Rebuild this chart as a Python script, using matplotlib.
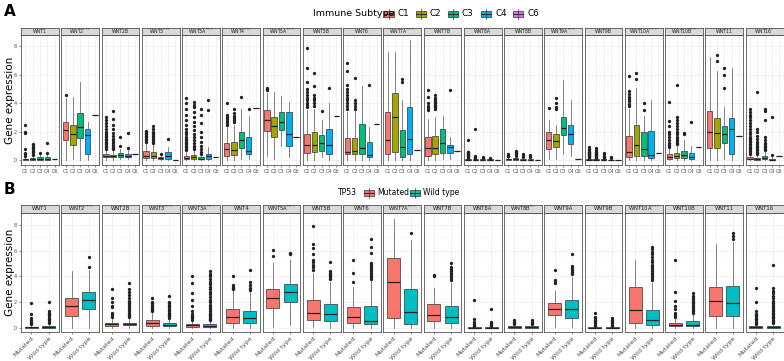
import matplotlib
matplotlib.use("Agg")
import matplotlib.pyplot as plt
from matplotlib.patches import Rectangle
from matplotlib.lines import Line2D

W, H = 784, 361

# ---------------- Panel A data (Immune subtype) ----------------
A_GENES = ["WNT1", "WNT2$^{***}$", "WNT2B", "WNT3$^{***}$", "WNT3A$^{***}$", "WNT4$^{***}$",
           "WNT5A$^{***}$", "WNT5B", "WNT6", "WNT7A$^{***}$", "WNT7B", "WNT8A", "WNT8B",
           "WNT9A$^{***}$", "WNT9B", "WNT10A$^{***}$", "WNT10B$^{**}$", "WNT11", "WNT16$^{*}$"]
A_GROUPS = ["C1", "C2", "C3", "C4", "C6"]
A_COLORS = ["#F8766D", "#A3A500", "#00BF7D", "#00B0F6", "#E76BF3"]

A_Q1 = [[0.0, 0.02, 0.0, 0.0, 0.05], [1.4, 1.05, 1.55, 0.4, 3.15], [0.18, 0.18, 0.2, 0.18, 0.43],
        [0.14, 0.14, 0.07, 0.07, 0.02], [0.05, 0.1, 0.04, 0.1, 0.2], [0.3, 0.35, 0.85, 0.4, 3.67],
        [2.05, 1.65, 2.1, 1.0, 1.65], [0.5, 0.55, 0.62, 0.42, 3.1], [0.4, 0.45, 0.4, 0.22, 2.55],
        [0.4, 0.55, 0.2, 0.45, 0.7], [0.3, 0.42, 0.5, 0.47, 0.65], [0, 0, 0, 0, 0],
        [0.02, 0.02, 0, 0, 0], [0.75, 0.9, 1.75, 1.15, 0.05], [0, 0, 0, 0, 0],
        [0.23, 0.28, 0.28, 0.12, 0.47], [0.1, 0.12, 0.16, 0.05, 0.95], [0.82, 0.87, 1.22, 0.42, 1.7],
        [0.05, 0.02, 0.05, 0.0, 0.25]]
A_MED = [[0.04, 0.07, 0.08, 0.06, 0.05], [2.08, 1.8, 2.3, 1.75, 3.15], [0.3, 0.28, 0.35, 0.3, 0.43],
         [0.3, 0.28, 0.13, 0.25, 0.02], [0.13, 0.2, 0.1, 0.25, 0.2], [0.8, 0.7, 1.4, 0.65, 3.67],
         [2.85, 2.4, 2.65, 1.8, 1.65], [1.08, 1.05, 1.18, 1.08, 3.1], [0.55, 0.63, 0.85, 0.38, 2.55],
         [1.4, 3.0, 0.95, 1.48, 0.7], [0.82, 0.87, 1.17, 0.94, 0.65], [0.02, 0.02, 0.02, 0.01, 0],
         [0.05, 0.06, 0.02, 0.02, 0], [1.4, 1.35, 2.25, 1.8, 0.05], [0.02, 0.02, 0.02, 0.01, 0],
         [0.6, 1.06, 0.75, 0.35, 0.47], [0.23, 0.28, 0.35, 0.19, 0.95], [1.95, 1.92, 1.8, 2.16, 1.7],
         [0.1, 0.06, 0.12, 0.03, 0.25]]
A_Q3 = [[0.1, 0.15, 0.2, 0.18, 0.05], [2.7, 2.5, 3.3, 2.15, 3.15], [0.4, 0.38, 0.5, 0.42, 0.43],
        [0.62, 0.57, 0.2, 0.55, 0.02], [0.3, 0.35, 0.18, 0.45, 0.2], [1.2, 1.3, 2.0, 1.6, 3.67],
        [3.55, 3.0, 3.35, 3.35, 1.65], [1.85, 2.0, 1.75, 2.2, 3.1], [1.55, 1.55, 2.55, 1.25, 2.55],
        [3.4, 4.75, 2.1, 3.7, 0.7], [1.6, 1.7, 2.18, 1.05, 0.65], [0.05, 0.05, 0.05, 0.04, 0],
        [0.1, 0.12, 0.05, 0.05, 0], [1.95, 1.85, 3.05, 2.45, 0.05], [0.05, 0.05, 0.05, 0.03, 0],
        [1.7, 2.5, 2.0, 2.05, 0.47], [0.4, 0.47, 0.66, 0.5, 0.95], [3.47, 2.98, 2.4, 2.98, 1.7],
        [0.2, 0.15, 0.3, 0.1, 0.25]]
A_LO = [[0, 0, 0, 0, 0.05], [0.0, 0.05, 0.0, 0.0, 3.15], [0, 0, 0.05, 0.05, 0.43],
        [0, 0, 0, 0, 0.02], [0, 0, 0, 0, 0.2], [0, 0, 0.1, 0.05, 3.67],
        [0.3, 0.1, 1.0, 0.2, 1.65], [0, 0, 0.2, 0, 3.1], [0, 0, 0, 0, 2.55],
        [0, 0, 0, 0, 0.7], [0, 0, 0.1, 0.05, 0.65], [0, 0, 0, 0, 0],
        [0, 0, 0, 0, 0], [0.1, 0.1, 0.4, 0.3, 0.05], [0, 0, 0, 0, 0],
        [0, 0, 0, 0, 0.47], [0, 0, 0, 0, 0.95], [0, 0, 0.05, 0, 1.7],
        [0, 0, 0, 0, 0.25]]
A_HI = [[0.25, 0.3, 0.45, 0.4, 0.05], [4.4, 4.45, 5.5, 2.7, 3.15], [0.7, 0.65, 0.8, 0.7, 0.43],
        [1.2, 1.1, 0.35, 0.9, 0.02], [0.6, 0.7, 0.38, 0.9, 0.2], [2.3, 2.5, 3.6, 3.1, 3.67],
        [4.7, 4.8, 4.5, 4.05, 1.65], [3.5, 3.6, 2.8, 4.0, 3.1], [3.4, 3.5, 5.2, 2.35, 2.55],
        [7.6, 7.6, 4.2, 8.45, 0.7], [2.9, 3.0, 3.1, 1.65, 0.65], [0.1, 0.1, 0.1, 0.08, 0],
        [0.2, 0.25, 0.1, 0.1, 0], [2.8, 2.5, 5.6, 4.2, 0.05], [0.1, 0.1, 0.1, 0.06, 0],
        [3.6, 5.05, 3.1, 4.25, 0.47], [0.85, 1.0, 1.4, 1.0, 0.95], [7.27, 6.3, 3.75, 6.45, 1.7],
        [0.4, 0.3, 0.6, 0.25, 0.25]]
A_OUT = [
    [[0.3, 0.4, 0.5, 0.8, 1.9, 2.0, 2.45], [0.35, 0.45, 0.55, 0.65, 0.75, 0.85, 0.95, 1.05, 1.1], [0.5], [0.5, 1.2], []],
    [[4.6], [], [], [], []],
    [[0.8, 0.9, 1.0, 1.1, 1.2, 1.3, 1.4, 1.5, 1.6, 1.7, 1.8, 2.0, 2.2, 2.4, 2.6, 2.8, 3.0],
     [0.75, 0.85, 0.95, 1.05, 1.2, 1.35, 1.5, 1.7, 1.9, 2.2, 2.5, 2.9, 3.45], [1.0, 1.65], [0.85, 1.9], []],
    [[1.3, 1.4, 1.5, 1.6, 1.7, 1.8, 1.9, 2.0, 2.05], [1.2, 1.3, 1.4, 1.5, 1.6, 1.7, 1.8, 1.9, 2.0, 2.2, 2.4],
     [0.45], [1.45], []],
    [[0.7, 0.8, 0.9, 1.0, 1.1, 1.2, 1.3, 1.4, 1.5, 1.6, 1.8, 2.0, 2.2, 2.5, 2.8, 3.2, 3.6, 4.0, 4.4],
     [0.8, 0.9, 1.0, 1.2, 1.4, 1.6, 1.8, 2.1, 2.4, 2.7, 3.0, 3.4, 3.7, 3.9, 4.1],
     [0.45, 0.6, 0.8, 1.0, 1.3, 1.6, 2.0, 2.6, 3.2, 3.6], [3.55, 4.2], []],
    [[2.45, 2.6, 2.75, 2.9, 3.05, 3.2, 4.0], [2.65, 2.8, 2.95, 3.1, 3.3, 3.6], [4.45], [3.6], []],
    [[4.9, 5.0, 5.1], [], [], [], []],
    [[3.7, 3.85, 4.0, 4.2, 4.4, 4.6, 4.8, 5.0, 5.5, 6.5, 7.9], [3.8, 4.0, 4.2, 4.4, 4.6, 5.2, 6.1], [3.45], [5.1], []],
    [[3.6, 3.8, 4.0, 4.2, 4.4, 4.6, 4.8, 5.0, 5.3, 6.3, 6.8], [3.6, 3.8, 4.0, 4.2, 5.75], [], [5.3], []],
    [[], [], [5.5, 5.7], [], []],
    [[3.5, 3.65, 3.8, 4.0, 4.45, 4.9], [3.6, 3.7, 3.8, 3.9, 4.0, 4.1, 4.2, 4.4, 4.6], [], [4.9], []],
    [[0.15, 0.2, 0.25, 0.3, 0.35, 0.4, 0.45, 0.5, 0.55, 0.6, 1.4], [0.15, 0.2, 0.3, 2.2], [0.15, 0.2], [0.12], []],
    [[0.25, 0.3, 0.4], [0.3, 0.4, 0.5, 0.6, 0.65], [0.2, 0.3, 0.45], [0.2, 0.35], []],
    [[3.65], [3.6, 3.7, 4.0, 4.4], [], [], []],
    [[0.15, 0.2, 0.25, 0.3, 0.35, 0.4, 0.45, 0.5, 0.55, 0.6, 0.7, 0.8, 0.95],
     [0.15, 0.2, 0.25, 0.3, 0.35, 0.4, 0.45, 0.5, 0.55, 0.6, 0.7, 0.85], [0.15, 0.2, 0.3, 0.4, 0.5], [0.15, 0.2], []],
    [[3.8, 3.95, 4.15, 4.3, 4.45, 4.65, 4.85, 5.9], [5.7, 6.15], [3.55, 4.0], [], []],
    [[0.95, 1.05, 1.2, 1.4, 1.6, 1.8, 2.0, 2.4, 2.75, 4.1],
     [1.1, 1.2, 1.35, 1.5, 1.65, 1.8, 2.0, 2.2, 2.4, 2.6, 2.8, 3.05, 5.3], [1.8, 1.9], [2.65], []],
    [[], [7.0, 7.4], [5.05, 6.0, 6.45], [], []],
    [[0.45, 0.55, 0.65, 0.75, 0.85, 0.95, 1.05, 1.15, 1.25, 1.35, 1.45, 1.55, 1.65, 1.8, 2.0, 2.2, 2.4, 2.6,
      2.8, 3.0, 3.2, 3.4, 3.6],
     [0.4, 0.5, 0.6, 0.7, 0.8, 0.9, 1.0, 1.1, 1.3, 1.5, 1.7, 2.0, 2.2, 4.8],
     [0.7, 0.8, 0.9, 1.0, 1.1, 1.2, 1.4, 1.6, 2.8, 3.45, 3.6], [0.35, 3.05], []],
]

# ---------------- Panel B data (TP53) ----------------
B_GENES = ["WNT1", "WNT2$^{***}$", "WNT2B", "WNT3$^{***}$", "WNT3A$^{***}$", "WNT4",
           "WNT5A$^{***}$", "WNT5B", "WNT6", "WNT7A$^{***}$", "WNT7B", "WNT8A", "WNT8B$^{**}$",
           "WNT9A", "WNT9B", "WNT10A$^{***}$", "WNT10B", "WNT11", "WNT16"]
B_GROUPS = ["Mutated", "Wild type"]
B_COLORS = ["#F8766D", "#00BFC4"]

B_Q1 = [[0.0, 0.0], [0.9, 1.47], [0.18, 0.2], [0.15, 0.15], [0.1, 0.08], [0.4, 0.4], [1.55, 2.0],
        [0.6, 0.52], [0.35, 0.28], [0.78, 0.28], [0.52, 0.39], [0, 0], [0.02, 0.02], [0.98, 0.8],
        [0, 0], [0.39, 0.26], [0.13, 0.13], [0.9, 0.9], [0.02, 0.02]]
B_MED = [[0.05, 0.07], [1.73, 2.14], [0.3, 0.3], [0.38, 0.23], [0.2, 0.16], [0.88, 0.78], [2.3, 2.8],
         [1.2, 1.05], [0.88, 0.53], [3.6, 1.24], [0.98, 0.85], [0.02, 0.02], [0.06, 0.06], [1.5, 1.45],
         [0.02, 0.02], [1.42, 0.65], [0.25, 0.25], [2.1, 1.9], [0.06, 0.08]]
B_Q3 = [[0.1, 0.15], [2.35, 2.76], [0.42, 0.42], [0.6, 0.38], [0.33, 0.28], [1.45, 1.35], [3.05, 3.44],
        [2.15, 1.85], [1.63, 1.72], [5.43, 3.0], [1.89, 1.7], [0.05, 0.05], [0.12, 0.12], [1.94, 2.15],
        [0.05, 0.05], [3.18, 1.42], [0.41, 0.52], [3.18, 3.28], [0.12, 0.15]]
B_LO = [[0, 0], [0, 0], [0, 0], [0, 0], [0, 0], [0, 0], [0.1, 0.25],
        [0.1, 0.0], [0, 0], [0, 0], [0, 0], [0, 0], [0, 0], [0.1, 0.05],
        [0, 0], [0, 0], [0, 0], [0, 0], [0, 0]]
B_HI = [[0.25, 0.35], [4.4, 4.5], [0.75, 0.75], [1.2, 0.75], [0.6, 0.55], [2.9, 2.8], [5.0, 5.3],
        [4.3, 3.6], [3.2, 3.7], [8.47, 6.8], [3.1, 3.5], [0.1, 0.1], [0.25, 0.25], [2.9, 3.95],
        [0.1, 0.1], [5.25, 3.5], [0.75, 1.05], [6.5, 6.7], [0.25, 0.3]]
B_OUT = [
    [[0.3, 0.4, 0.5, 0.6, 0.8, 1.1, 1.9], [0.4, 0.5, 0.6, 0.7, 0.8, 0.9, 1.0, 1.1, 1.2, 1.3, 2.05]],
    [[], [4.7, 5.5]],
    [[0.85, 1.0, 1.2, 1.6, 1.7, 2.0, 2.35, 3.0],
     [0.85, 0.95, 1.05, 1.15, 1.3, 1.45, 1.6, 1.75, 1.9, 2.1, 2.3, 2.55, 2.8, 3.0, 3.45]],
    [[1.3, 1.4, 1.5, 1.6, 1.7, 1.8, 1.9, 2.0, 2.3],
     [0.8, 0.9, 1.0, 1.1, 1.2, 1.3, 1.4, 1.5, 1.6, 1.7, 1.8, 1.9, 2.0, 2.45]],
    [[0.65, 0.75, 0.85, 0.95, 1.1, 1.3, 1.7, 2.2, 2.7, 3.5, 4.0],
     [0.6, 0.7, 0.8, 0.9, 1.0, 1.1, 1.2, 1.35, 1.5, 1.65, 1.8, 2.0, 2.2, 2.4, 2.6, 2.8, 3.0, 3.2, 3.4, 3.6,
      3.8, 4.0, 4.2, 4.4]],
    [[3.0, 3.1, 3.2, 3.3, 4.05], [2.95, 3.1, 3.3, 3.6, 4.5]],
    [[5.6, 6.05], [5.75, 5.85]],
    [[4.5, 4.7, 4.9, 5.1, 5.3, 5.7, 6.2, 6.5, 7.9], [3.8, 3.9, 4.0, 4.1, 4.2, 4.3, 4.4, 5.1]],
    [[3.6, 4.3, 5.3], [3.8, 3.95, 4.1, 4.25, 4.4, 4.55, 4.7, 4.85, 5.0, 5.8, 6.3, 6.9]],
    [[], [7.4]],
    [[4.0, 4.1], [3.7, 3.85, 4.0, 4.15, 4.3, 4.45, 4.6, 4.75, 5.0]],
    [[0.15, 0.2, 0.3, 0.5, 0.7, 2.2], [0.15, 0.2, 0.3, 0.4, 0.5, 1.45]],
    [[0.3, 0.4, 0.5, 0.6], [0.3, 0.4, 0.5, 0.6]],
    [[3.5, 3.6, 3.75, 4.5], [4.2, 4.35, 4.5, 4.65, 4.8, 5.7]],
    [[0.15, 0.25, 0.35, 0.45, 0.55, 0.65, 0.75, 0.85, 1.15], [0.15, 0.25, 0.35, 0.45, 0.55, 0.65, 0.8]],
    [[], [3.7, 3.85, 4.0, 4.15, 4.3, 4.45, 4.6, 4.75, 4.9, 5.1, 5.3, 5.5, 5.7, 5.9, 6.1, 6.3]],
    [[0.85, 1.0, 1.2, 1.5, 1.7, 2.1, 2.8, 5.3],
     [1.15, 1.3, 1.45, 1.6, 1.75, 1.9, 2.05, 2.2, 2.35, 2.5, 2.7]],
    [[], [6.9, 7.1, 7.4]],
    [[0.3, 0.4, 0.5, 0.6, 0.7, 0.8, 0.9, 1.0, 1.1, 1.3, 2.0, 3.1],
     [0.35, 0.45, 0.55, 0.65, 0.75, 0.85, 0.95, 1.05, 1.2, 1.35, 1.5, 1.65, 1.8, 1.95, 2.1, 2.3, 2.5, 2.7,
      2.9, 3.1, 4.9]],
]
Y_TICKS = [0, 2, 4, 6, 8]

# ---------------- drawing ----------------
fig = plt.figure(figsize=(W / 100, H / 100), dpi=100)
fig.patch.set_facecolor("white")


def px_axes(x0, y0, x1, y1, **kw):
    return fig.add_axes([x0 / W, 1 - y1 / H, (x1 - x0) / W, (y1 - y0) / H], **kw)


EDGE = "#333333"


def draw_panel(genes, groups, colors, q1, med, q3, lo, hi, out, top, bottom, strip_h,
               ylim, strip_fs, xtick_fs, xrot):
    n = len(genes)
    left, right = 21.0, 783.5
    gap = 2.3
    w = (right - left - gap * (n - 1)) / n
    k = len(groups)
    for i in range(n):
        x0 = left + i * (w + gap)
        ax = px_axes(x0, top, x0 + w, bottom)
        stats = []
        for j in range(k):
            stats.append(dict(med=med[i][j], q1=q1[i][j], q3=q3[i][j],
                              whislo=lo[i][j], whishi=hi[i][j], fliers=out[i][j]))
        res = ax.bxp(stats, positions=list(range(1, k + 1)), widths=0.75, patch_artist=True,
                     showcaps=False,
                     boxprops=dict(linewidth=0.5, edgecolor=EDGE),
                     whiskerprops=dict(linewidth=0.5, color="#555555"),
                     medianprops=dict(linewidth=0.9, color="#222222"),
                     flierprops=dict(marker="o", markersize=2.4, markerfacecolor="#222222",
                                     markeredgewidth=0, linestyle="none"))
        for patch, c in zip(res["boxes"], colors):
            patch.set_facecolor(c)
        ax.set_xlim(0.4, k + 0.6)
        ax.set_ylim(*ylim)
        ax.set_yticks(Y_TICKS)
        ax.set_yticks([1, 3, 5, 7], minor=True)
        ax.set_xticks(list(range(1, k + 1)))
        ax.set_xticklabels(groups, fontsize=xtick_fs, color="#4D4D4D",
                           rotation=xrot, ha="right" if xrot else "center",
                           rotation_mode="anchor" if xrot else "default")
        ax.tick_params(axis="x", length=1.5, width=0.4, color="#333333", pad=1.2)
        ax.tick_params(axis="y", which="major", length=1.5, width=0.4, color="#333333",
                       labelsize=3.5, labelcolor="#4D4D4D", pad=1.5)
        ax.tick_params(axis="y", which="minor", length=0)
        if i > 0:
            ax.tick_params(axis="y", which="major", length=0, labelleft=False)
        ax.grid(True, which="major", color="#EBEBEB", linewidth=0.5)
        ax.grid(True, which="minor", axis="y", color="#F2F2F2", linewidth=0.3)
        ax.set_axisbelow(True)
        for s in ax.spines.values():
            s.set_color("#555555")
            s.set_linewidth(0.6)
        # strip
        sax = px_axes(x0, top - strip_h, x0 + w, top)
        sax.set_facecolor("#D9D9D9")
        sax.set_xticks([])
        sax.set_yticks([])
        for s in sax.spines.values():
            s.set_color("#555555")
            s.set_linewidth(0.6)
        sax.text(0.5, 0.5, genes[i], fontsize=strip_fs, color="#1A1A1A",
                 ha="center", va="center", transform=sax.transAxes)


def box_key(cx, cy, color):
    # boxplot legend glyph, pixel coords (top-down)
    bw, bh, full = 10.0, 6.0, 10.0
    fig.add_artist(Line2D([cx / W, cx / W], [1 - (cy - full / 2) / H, 1 - (cy + full / 2) / H],
                          color="#333333", linewidth=0.5, transform=fig.transFigure))
    fig.add_artist(Rectangle(((cx - bw / 2) / W, 1 - (cy + bh / 2) / H), bw / W, bh / H,
                             facecolor=color, edgecolor="#333333", linewidth=0.5,
                             transform=fig.transFigure))
    fig.add_artist(Line2D([(cx - bw / 2) / W, (cx + bw / 2) / W], [1 - cy / H, 1 - cy / H],
                          color="#333333", linewidth=0.8, transform=fig.transFigure))


# Panel A
draw_panel(A_GENES, A_GROUPS, A_COLORS, A_Q1, A_MED, A_Q3, A_LO, A_HI, A_OUT,
           top=35, bottom=165, strip_h=7.5, ylim=(-0.35, 8.8), strip_fs=3.3, xtick_fs=3.6, xrot=0)
# Panel B
draw_panel(B_GENES, B_GROUPS, B_COLORS, B_Q1, B_MED, B_Q3, B_LO, B_HI, B_OUT,
           top=212.5, bottom=332, strip_h=7.5, ylim=(-0.31, 8.95), strip_fs=3.8, xtick_fs=4.6, xrot=45)

# panel letters
fig.text(4 / W, 1 - 11 / H, "A", fontsize=11, fontweight="bold", va="center", ha="left")
fig.text(4 / W, 1 - 190 / H, "B", fontsize=11, fontweight="bold", va="center", ha="left")

# y labels
fig.text(10 / W, 1 - 100 / H, "Gene expression", rotation=90, fontsize=7.5, va="center", ha="center")
fig.text(10 / W, 1 - 272 / H, "Gene expression", rotation=90, fontsize=7.5, va="center", ha="center")

# Legend A
fig.text(313 / W, 1 - 14 / H, "Immune Subtype", fontsize=6.8, va="center", ha="left")
lx = [389, 421, 453, 486, 518]
for x, c, g in zip(lx, A_COLORS, A_GROUPS):
    box_key(x, 14, c)
    fig.text((x + 9) / W, 1 - 14 / H, g, fontsize=6.3, va="center", ha="left")

# Legend B
fig.text(338 / W, 1 - 192.5 / H, "TP53", fontsize=5.5, va="center", ha="left")
for x, c, g in zip([369, 415], B_COLORS, B_GROUPS):
    box_key(x, 192.5, c)
    fig.text((x + 8) / W, 1 - 192.5 / H, g, fontsize=5.5, va="center", ha="left")

fig.savefig("out.png", dpi=100)
